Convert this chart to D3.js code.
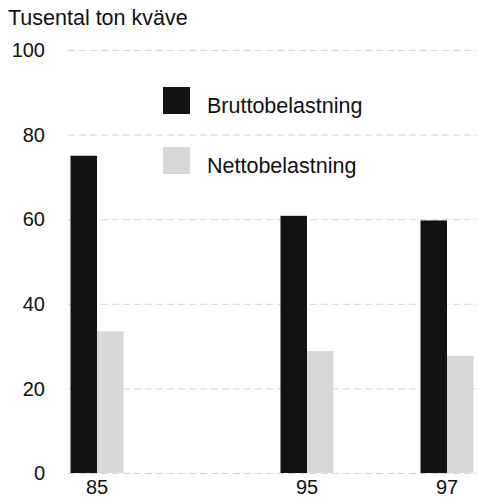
<!DOCTYPE html>
<html>
<head>
<meta charset="utf-8">
<script src="https://cdn.jsdelivr.net/npm/d3@7"></script>
<style>
  body { margin: 0; background: #fff; }
  text { font-family: "Liberation Sans", Arial, sans-serif; fill: #111; }
</style>
</head>
<body>
<div id="chart"></div>
<script>
// data (thousand tonnes of nitrogen)
const years = ["85", "95", "97"];
const brutto = [75, 60.8, 59.7];
const netto = [33.5, 28.8, 27.7];
const yTicks = [0, 20, 40, 60, 80, 100];
const seriesNames = ["Bruttobelastning", "Nettobelastning"];

const W = 477, H = 499;
const colors = ["#121212", "#d8d8d8"];

const svg = d3.select("#chart").append("svg")
    .attr("width", W)
    .attr("height", H);

// y scale
const y = d3.scaleLinear().domain([0, 100]).range([473, 50]);

// the years are not evenly spaced on the original axis, empty slots fill the gaps
const slotDomain = ["85", "gap1", "gap2", "95", "gap3", "97"];
const x = d3.scalePoint().domain(slotDomain).range([97, 447]);
const barW = 26.5;

// gridlines
svg.append("g").selectAll("line")
    .data(yTicks)
    .enter().append("line")
    .attr("x1", 68)
    .attr("x2", W)
    .attr("y1", d => y(d) + 0.5)
    .attr("y2", d => y(d) + 0.5)
    .style("stroke", "#d6d6d6")
    .style("stroke-width", 1)
    .style("stroke-dasharray", "7,4");

// y tick labels
svg.append("g").selectAll("text")
    .data(yTicks)
    .enter().append("text")
    .attr("x", 45)
    .attr("y", d => y(d))
    .attr("dy", "0.36em")
    .attr("text-anchor", "end")
    .style("font-size", "20px")
    .text(d => d);

// bars
const groups = svg.append("g").selectAll("g")
    .data(years)
    .enter().append("g");

groups.append("rect")
    .attr("x", d => x(d) - barW)
    .attr("y", (d, i) => y(brutto[i]))
    .attr("width", barW)
    .attr("height", (d, i) => y(0) - y(brutto[i]))
    .style("fill", colors[0]);

groups.append("rect")
    .attr("x", d => x(d))
    .attr("y", (d, i) => y(netto[i]))
    .attr("width", barW)
    .attr("height", (d, i) => y(0) - y(netto[i]))
    .style("fill", colors[1]);

// x labels
svg.append("g").selectAll("text")
    .data(years)
    .enter().append("text")
    .attr("x", d => x(d))
    .attr("y", 494)
    .attr("text-anchor", "middle")
    .style("font-size", "20px")
    .text(d => d);

// title
svg.append("text")
    .attr("x", 8)
    .attr("y", 25)
    .style("font-size", "21.5px")
    .text("Tusental ton kväve");

// legend
const legend = svg.append("g").attr("transform", "translate(163,87)");
legend.selectAll("rect")
    .data(seriesNames)
    .enter().append("rect")
    .attr("x", 0)
    .attr("y", (d, i) => i * 60)
    .attr("width", 27)
    .attr("height", 27)
    .style("fill", (d, i) => colors[i]);

legend.selectAll("text")
    .data(seriesNames)
    .enter().append("text")
    .attr("x", 44)
    .attr("y", (d, i) => i * 60 + 26)
    .style("font-size", "21.5px")
    .text(d => d);
</script>
</body>
</html>
